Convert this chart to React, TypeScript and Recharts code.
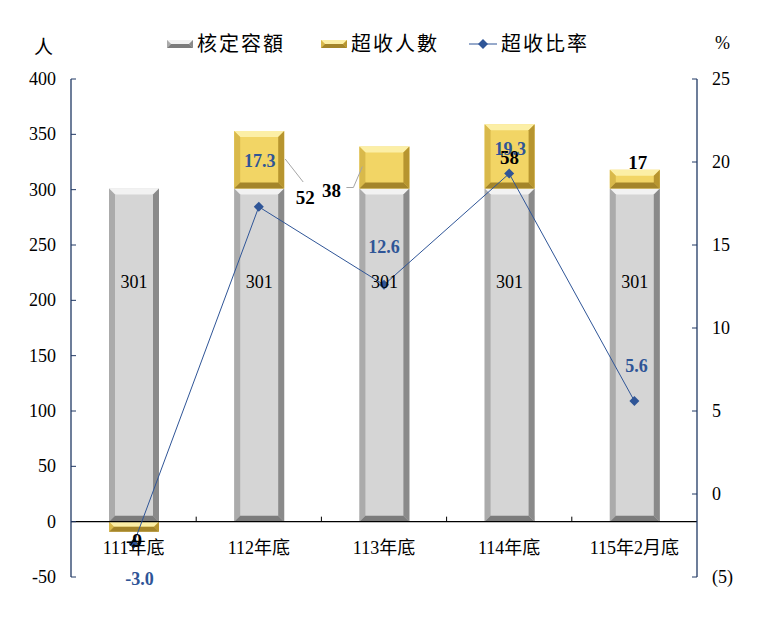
import React from 'react';
import {
  ComposedChart,
  Bar,
  Line,
  XAxis,
  YAxis,
  ReferenceLine,
  LabelList,
} from 'recharts';

const categories = ['111年底', '112年底', '113年底', '114年底', '115年2月底'];
const quota = [301, 301, 301, 301, 301];
const excess = [-9, 52, 38, 58, 17];
const ratio = [-3.0, 17.3, 12.6, 19.3, 5.6];
const leftTicks = [-50, 0, 50, 100, 150, 200, 250, 300, 350, 400];
const rightTicks = [-5, 0, 5, 10, 15, 20, 25];

// label nudges (Excel labels were hand placed)
const excessLabelOffsets = [
  { dx: 0, dy: 18 },
  { dx: 46, dy: 66 },
  { dx: -53, dy: 43 },
  { dx: 0, dy: 33 },
  { dx: 3, dy: -8 },
];
const excessLeaders: Record<number, number[][]> = {
  1: [[-2, -15], [-20, -38]],
  2: [[15, -2], [22, -2], [31, -23]],
};
const ratioLabelOffsets = [
  { dx: 6, dy: 34 },
  { dx: 1, dy: -47 },
  { dx: 0, dy: -39 },
  { dx: 1, dy: -26 },
  { dx: 2, dy: -36 },
];

const data = categories.map((cat, i) => ({
  cat,
  quota: quota[i],
  excess: excess[i],
  ratio: ratio[i],
}));

const W = 772;
const H = 618;
const PLOT_TOP = 79;
const PLOT_BOTTOM = 577;
const L_MIN = -50;
const L_MAX = 400;
const ZERO_Y = PLOT_TOP + ((PLOT_BOTTOM - PLOT_TOP) * L_MAX) / (L_MAX - L_MIN);
const BAND = (697 - 71) / categories.length;

const FONT = '"Liberation Serif", "Times New Roman", "Noto Sans CJK TC", serif';
const CJK = '"Liberation Serif", "Noto Sans CJK TC", serif';
const AXIS = '#203864';
const BLUE = '#2F5597';

const greyPal = { mid: '#D5D5D5', top: '#F2F2F2', left: '#ABABAB', right: '#8A8A8A', bottom: '#7C7C7C' };
const goldPal = { mid: '#F2D565', top: '#FCEFA6', left: '#D9B94B', right: '#B7952F', bottom: '#A4852A' };

function bevelShape(pal: typeof greyPal) {
  return (props: any) => {
    const { x, width } = props;
    let { y, height } = props;
    if (height < 0) {
      y = y + height;
      height = -height;
    }
    if (!height) return <g />;
    const b = Math.min(6, height / 2);
    const w = width;
    const h = height;
    return (
      <g>
        <rect x={x} y={y} width={w} height={h} fill={pal.mid} />
        <polygon points={`${x},${y} ${x + w},${y} ${x + w - b},${y + b} ${x + b},${y + b}`} fill={pal.top} />
        <polygon points={`${x},${y} ${x + b},${y + b} ${x + b},${y + h - b} ${x},${y + h}`} fill={pal.left} />
        <polygon points={`${x + w},${y} ${x + w},${y + h} ${x + w - b},${y + h - b} ${x + w - b},${y + b}`} fill={pal.right} />
        <polygon points={`${x},${y + h} ${x + b},${y + h - b} ${x + w - b},${y + h - b} ${x + w},${y + h}`} fill={pal.bottom} />
      </g>
    );
  };
}

function LeftTick({ x, y, payload }: any) {
  return (
    <g>
      <line x1={x + 15} x2={x + 20} y1={y} y2={y} stroke={AXIS} />
      <text x={x} y={y} dy={6} textAnchor="end" fontFamily={FONT} fontSize={18} fill="#000">
        {payload.value}
      </text>
    </g>
  );
}

function RightTick({ x, y, payload }: any) {
  const v = payload.value;
  return (
    <g>
      <line x1={x - 15} x2={x - 20} y1={y} y2={y} stroke={AXIS} />
      <text x={x} y={y} dy={6} textAnchor="start" fontFamily={FONT} fontSize={18} fill="#000">
        {v < 0 ? `(${-v})` : v}
      </text>
    </g>
  );
}

function CatTick({ x, payload, index }: any) {
  return (
    <g>
      {index < categories.length - 1 && (
        <line x1={x + BAND / 2} x2={x + BAND / 2} y1={ZERO_Y - 5} y2={ZERO_Y} stroke="#000" />
      )}
      <text x={x} y={ZERO_Y + 32} textAnchor="middle" fontFamily={CJK} fontSize={18} fill="#000">
        {payload.value}
      </text>
    </g>
  );
}

function QuotaLabel({ x, y, width, height, value }: any) {
  const h = Math.abs(height);
  const top = Math.min(y, y + height);
  return (
    <text x={x + width / 2} y={top + h * 0.28 + 6} textAnchor="middle" fontFamily={FONT} fontSize={18} fill="#000">
      {value}
    </text>
  );
}

function ExcessLabel({ x, y, width, height, value, index }: any) {
  const top = Math.min(y, y + height);
  const off = excessLabelOffsets[index];
  const lx = x + width / 2 + off.dx;
  const ly = top + off.dy;
  const leader = excessLeaders[index];
  return (
    <g>
      {leader && (
        <polyline
          points={leader.map(([dx, dy]) => `${lx + dx},${ly + dy}`).join(' ')}
          fill="none"
          stroke="#A6A6A6"
          strokeWidth={1}
        />
      )}
      <text x={lx} y={ly + 7} textAnchor="middle" fontFamily={FONT} fontSize={19} fontWeight="bold" fill="#000">
        {value}
      </text>
    </g>
  );
}

function RatioLabel({ x, y, value, index }: any) {
  const off = ratioLabelOffsets[index];
  return (
    <text x={x + off.dx} y={y + off.dy + 7} textAnchor="middle" fontFamily={FONT} fontSize={18} fontWeight="bold" fill={BLUE}>
      {Number(value).toFixed(1)}
    </text>
  );
}

function Diamond({ cx, cy, index }: any) {
  const r = 5;
  return (
    <path
      key={`d-${index}`}
      d={`M${cx},${cy - r} L${cx + r},${cy} L${cx},${cy + r} L${cx - r},${cy} Z`}
      fill={BLUE}
    />
  );
}

function Swatch({ pal }: { pal: typeof greyPal }) {
  const Shape = bevelShape(pal);
  return (
    <svg width={26} height={10} style={{ display: 'block' }}>
      <Shape x={0} y={1} width={26} height={8} />
    </svg>
  );
}

function Legend() {
  const text: React.CSSProperties = {
    fontFamily: CJK,
    fontSize: 20,
    letterSpacing: 2,
    color: '#000',
    lineHeight: '24px',
  };
  return (
    <div style={{ position: 'absolute', left: 167, top: 32, display: 'flex', alignItems: 'center' }}>
      <Swatch pal={greyPal} />
      <span style={{ ...text, marginLeft: 4, width: 124 }}>核定容額</span>
      <Swatch pal={goldPal} />
      <span style={{ ...text, marginLeft: 4, width: 118 }}>超收人數</span>
      <svg width={28} height={12} style={{ display: 'block' }}>
        <line x1={0} x2={28} y1={6} y2={6} stroke={BLUE} strokeWidth={1} />
        <path d="M14,1 L19,6 L14,11 L9,6 Z" fill={BLUE} />
      </svg>
      <span style={{ ...text, marginLeft: 4 }}>超收比率</span>
    </div>
  );
}

export default function App() {
  return (
    <div style={{ position: 'absolute', left: 0, top: 0, width: W, height: H, background: '#fff' }}>
      <div style={{ position: 'absolute', left: 34, top: 32, fontFamily: CJK, fontSize: 19 }}>人</div>
      <div style={{ position: 'absolute', left: 715, top: 33, fontFamily: FONT, fontSize: 18 }}>%</div>
      <Legend />
      <ComposedChart
        width={W}
        height={H}
        data={data}
        stackOffset="sign"
        margin={{ top: PLOT_TOP, right: 15, left: 11, bottom: 0 }}
      >
        <XAxis
          dataKey="cat"
          axisLine={false}
          tickLine={false}
          height={H - PLOT_BOTTOM}
          tick={<CatTick />}
          interval={0}
        />
        <YAxis
          yAxisId="left"
          orientation="left"
          width={60}
          domain={[L_MIN, L_MAX]}
          ticks={leftTicks}
          interval={0}
          allowDataOverflow
          axisLine={{ stroke: AXIS, strokeWidth: 1.3 }}
          tickLine={false}
          tickSize={0}
          tickMargin={15}
          tick={<LeftTick />}
        />
        <YAxis
          yAxisId="right"
          orientation="right"
          width={60}
          domain={[-5, 25]}
          ticks={rightTicks}
          interval={0}
          allowDataOverflow
          axisLine={{ stroke: AXIS, strokeWidth: 1.3 }}
          tickLine={false}
          tickSize={0}
          tickMargin={15}
          tick={<RightTick />}
        />
        <ReferenceLine yAxisId="left" y={0} stroke="#000" strokeWidth={1.3} />
        <Bar
          yAxisId="left"
          dataKey="quota"
          stackId="s"
          barSize={50}
          shape={bevelShape(greyPal)}
          isAnimationActive={false}
        >
          <LabelList dataKey="quota" content={<QuotaLabel />} />
        </Bar>
        <Bar
          yAxisId="left"
          dataKey="excess"
          stackId="s"
          barSize={50}
          shape={bevelShape(goldPal)}
          isAnimationActive={false}
        >
          <LabelList dataKey="excess" content={<ExcessLabel />} />
        </Bar>
        <Line
          yAxisId="right"
          dataKey="ratio"
          stroke={BLUE}
          strokeWidth={1}
          dot={<Diamond />}
          activeDot={false}
          isAnimationActive={false}
        >
          <LabelList dataKey="ratio" content={<RatioLabel />} />
        </Line>
      </ComposedChart>
    </div>
  );
}
